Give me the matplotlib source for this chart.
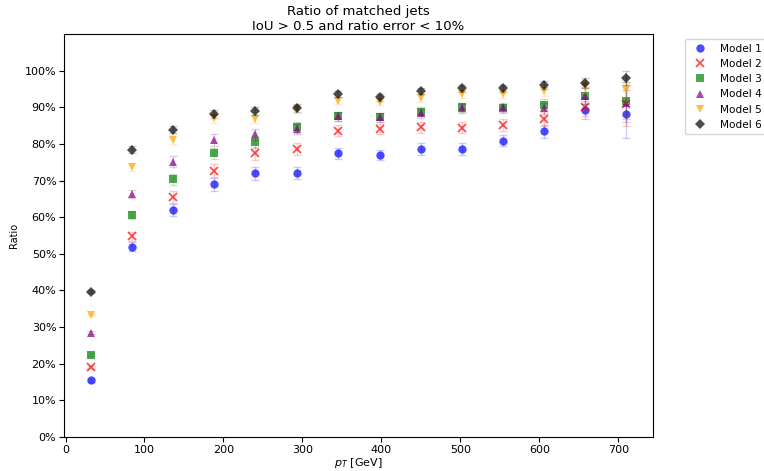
import numpy as np
import matplotlib
matplotlib.use("Agg")
import matplotlib.pyplot as plt
from matplotlib.colors import to_rgba
from matplotlib.ticker import PercentFormatter

# bin centres in pT [GeV]
pt = [32, 84, 136, 188, 240, 293, 345, 398, 450, 502, 554, 606, 658, 710]

labels = ["Model 1", "Model 2", "Model 3", "Model 4", "Model 5", "Model 6"]

model1 = [0.155, 0.519, 0.620, 0.690, 0.720, 0.720, 0.774, 0.770, 0.786, 0.786, 0.809, 0.834, 0.893, 0.882]
model2 = [0.190, 0.548, 0.656, 0.727, 0.774, 0.786, 0.836, 0.841, 0.845, 0.844, 0.852, 0.868, 0.900, 0.910]
model3 = [0.224, 0.606, 0.704, 0.774, 0.805, 0.845, 0.875, 0.873, 0.888, 0.900, 0.897, 0.907, 0.932, 0.918]
model4 = [0.285, 0.663, 0.751, 0.811, 0.826, 0.841, 0.875, 0.873, 0.884, 0.897, 0.900, 0.898, 0.930, 0.911]
model5 = [0.333, 0.736, 0.812, 0.870, 0.868, 0.895, 0.918, 0.915, 0.925, 0.936, 0.936, 0.944, 0.955, 0.948]
model6 = [0.397, 0.784, 0.839, 0.882, 0.889, 0.898, 0.936, 0.927, 0.944, 0.952, 0.952, 0.961, 0.966, 0.980]

err1 = [0.004, 0.012, 0.016, 0.018, 0.018, 0.017, 0.015, 0.014, 0.016, 0.016, 0.016, 0.018, 0.024, 0.065]
err2 = [0.004, 0.012, 0.016, 0.018, 0.017, 0.016, 0.015, 0.014, 0.015, 0.015, 0.016, 0.018, 0.025, 0.060]
err3 = [0.004, 0.012, 0.015, 0.016, 0.015, 0.014, 0.012, 0.012, 0.012, 0.012, 0.013, 0.015, 0.022, 0.050]
err4 = [0.004, 0.012, 0.015, 0.016, 0.015, 0.014, 0.012, 0.012, 0.012, 0.012, 0.013, 0.015, 0.022, 0.050]
err5 = [0.003, 0.010, 0.012, 0.012, 0.012, 0.011, 0.010, 0.010, 0.010, 0.010, 0.011, 0.012, 0.016, 0.035]
err6 = [0.003, 0.009, 0.010, 0.011, 0.011, 0.010, 0.009, 0.009, 0.009, 0.009, 0.010, 0.011, 0.014, 0.018]

values = [model1, model2, model3, model4, model5, model6]
errors = [err1, err2, err3, err4, err5, err6]
markers = ["o", "x", "s", "^", "v", "D"]
colors = ["blue", "red", "green", "purple", "orange", "black"]

fig = plt.figure(figsize=(7.64, 4.71), dpi=100)
ax = fig.add_axes([64 / 764, 34 / 471, 589 / 764, 403 / 471])

for lab, y, e, m, c in zip(labels, values, errors, markers, colors):
    # faint error bars underneath the markers
    ax.errorbar(pt, y, yerr=e, fmt="none", ecolor=to_rgba(c, 0.2),
                elinewidth=1, capsize=3)
    if m == "x":
        ax.plot(pt, y, linestyle="none", marker=m, color=c, alpha=0.7,
                markersize=5.5, markeredgewidth=1.3, label=lab)
    else:
        ax.plot(pt, y, linestyle="none", marker=m, color=c, alpha=0.7,
                markersize=6 if m != "D" else 5.5, markeredgewidth=0,
                label=lab)

ax.set_ylim(0, 1.1)
ax.set_yticks(np.arange(0, 1.01, 0.1))
ax.yaxis.set_major_formatter(PercentFormatter(1.0, decimals=0))
ax.tick_params(labelsize=8, pad=2)
ax.set_xlabel("$p_T$ [GeV]", fontsize=8, labelpad=1)
ax.set_ylabel("Ratio", fontsize=7)
ax.set_title("Ratio of matched jets\nIoU > 0.5 and ratio error < 10%",
             fontsize=9.5, pad=3)

ax.legend(loc="upper left", bbox_to_anchor=(1.045, 1.0), fontsize=7.6,
          handletextpad=0.9)

fig.savefig("out.png", dpi=100)
